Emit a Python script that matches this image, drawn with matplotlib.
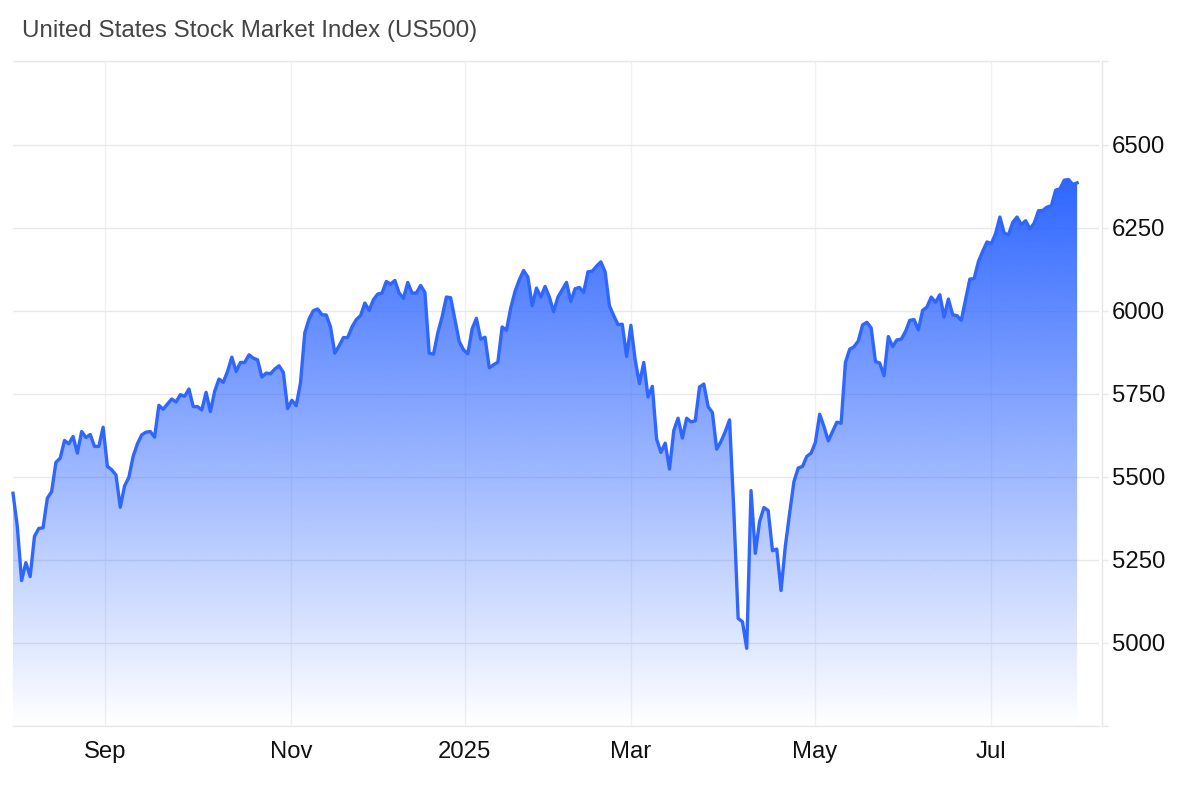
import numpy as np
import matplotlib.pyplot as plt
from matplotlib.patches import Polygon

'''
US500 index over the last year, daily closes with a blue gradient under the line.
'''
plt.rcParams['font.family'] = ['Liberation Sans', 'DejaVu Sans']

prices_2024 = [5451, 5351, 5188, 5242, 5200, 5321, 5345, 5347, 5436, 5456, 5544, 5557, 5610, 5600, 5622, 5572,
    5637, 5619, 5628, 5592, 5592, 5650, 5532, 5522, 5506, 5409, 5473, 5499, 5562, 5600, 5627, 5635,
    5637, 5620, 5716, 5704, 5720, 5735, 5726, 5748, 5743, 5765, 5712, 5712, 5702, 5755, 5697, 5758,
    5795, 5785, 5818, 5861, 5818, 5845, 5845, 5868, 5858, 5853, 5801, 5813, 5811, 5825, 5835, 5815,
    5706, 5731, 5715, 5783, 5934, 5976, 6001, 6006, 5989, 5988, 5952, 5873, 5895, 5920, 5920, 5952,
    5974, 5986, 6024, 6002, 6034, 6051, 6054, 6089, 6081, 6092, 6054, 6038, 6086, 6054, 6054, 6077,
    6056, 5873, 5870, 5934, 5982, 6042, 6040, 5974, 5908, 5883, 5871]
prices_2025_q1 = [5946, 5978, 5915, 5921, 5829, 5838, 5846, 5952, 5942, 6009, 6059, 6094, 6122, 6102, 6016,
    6069, 6042, 6074, 6042, 5998, 6042, 6064, 6086, 6029, 6067, 6071, 6056, 6118, 6120, 6135, 6148,
    6118, 6016, 5986, 5959, 5960, 5863, 5957, 5853, 5781, 5845, 5741, 5773, 5614, 5574, 5602, 5524,
    5640, 5677, 5617, 5677, 5666, 5669, 5771, 5780, 5712, 5694, 5584]
prices_2025_q2 = [5607, 5637, 5672, 5396, 5074, 5064, 4984, 5459, 5270, 5366, 5408, 5399, 5278, 5283, 5158,
    5292, 5391, 5486, 5527, 5532, 5562, 5572, 5604, 5689, 5652, 5609, 5637, 5665, 5662, 5845, 5885,
    5892, 5910, 5958, 5966, 5949, 5848, 5843, 5805, 5923, 5893, 5913, 5915, 5938, 5972, 5974, 5943,
    6002, 6012, 6042, 6026, 6049, 5982, 6036, 5989, 5986, 5972, 6034, 6096, 6098, 6149, 6180, 6208,
    6203, 6233, 6283, 6235, 6229, 6267, 6283, 6260, 6272, 6247, 6265, 6302, 6303, 6313, 6317, 6364,
    6368, 6394, 6396, 6381, 6386]
prices = np.array(prices_2024 + prices_2025_q1 + prices_2025_q2)
days = np.arange(len(prices))

month_ticks = [21.4, 64.8, 105.3, 144, 186.9, 227.9]
month_labels = ['Sep', 'Nov', '2025', 'Mar', 'May', 'Jul']
price_ticks = [4750, 5000, 5250, 5500, 5750, 6000, 6250, 6500, 6753]
price_labels = ['', '5000', '5250', '5500', '5750', '6000', '6250', '6500', '']

blue = '#2e66ff'
ymin, ymax = 4750, 6753
xmax = 253.1

fig = plt.figure(figsize = (12, 7.85), dpi = 100)
ax = fig.add_axes([13/1200, 59/785, 1086/1200, 665/785])

# gradient goes from solid blue at the highest close to nothing at the axis
rgba = np.zeros((256, 1, 4))
rgba[..., 0] = 46/255
rgba[..., 1] = 102/255
rgba[..., 2] = 1
rgba[..., 3] = np.linspace(1, 0, 256)[:, None]
img = ax.imshow(rgba, extent = [days[0], days[-1], ymin, prices.max()], aspect = 'auto', zorder = 2,
    interpolation = 'bilinear')
area = Polygon(np.vstack([[days[0], ymin], np.column_stack([days, prices]), [days[-1], ymin]]),
    transform = ax.transData, facecolor = 'none', edgecolor = 'none')
ax.add_patch(area)
img.set_clip_path(area)

ax.plot(days, prices, color = blue, linewidth = 2.4, zorder = 3, solid_joinstyle = 'round', clip_on = False)

ax.set_xlim(0, xmax)
ax.set_ylim(ymin, ymax)
ax.set_xticks(month_ticks)
ax.set_xticklabels(month_labels)
ax.set_yticks(price_ticks)
ax.set_yticklabels(price_labels)
ax.yaxis.tick_right()
ax.tick_params(axis = 'x', length = 0, pad = 10.5, labelsize = 17.2, labelcolor = '#111111')
ax.tick_params(axis = 'y', length = 4.5, width = 1, color = '#e8e8e8', pad = 2.5, labelsize = 17.2, labelcolor = '#111111')
for label in ax.get_yticklabels():
    label.set_verticalalignment('center_baseline')

ax.set_axisbelow(True)
ax.grid(True, axis = 'y', color = '#e8e8e8', linestyle = '-', linewidth = 1)
ax.grid(True, axis = 'x', color = '#edf1f7', linestyle = '-', linewidth = 1)

ax.spines['left'].set_visible(False)
for side in ['top', 'bottom', 'right']:
    ax.spines[side].set_color('#e8e8e8')
    ax.spines[side].set_linewidth(1)
ax.spines['right'].set_position(('outward', 2.2))

fig.text(22/1200, 1 - 31.5/785, 'United States Stock Market Index (US500)', fontsize = 17.4, color = '#444444',
    ha = 'left', va = 'center')

plt.savefig('out.png', dpi = 100)
